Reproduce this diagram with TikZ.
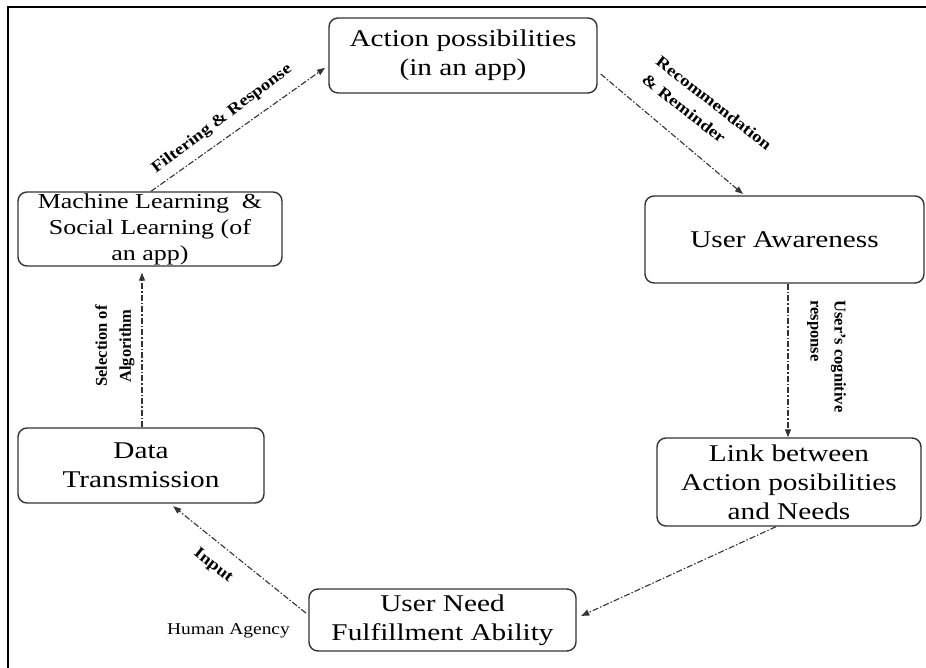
\documentclass[tikz,border=0pt]{standalone}
\usepackage{fontspec}
\setmainfont{Liberation Serif}
\newfontfamily\boxfont{Liberation Serif}[FakeStretch=1.22]
\newfontfamily\labfont{Liberation Serif}[FakeStretch=1.18]
\usetikzlibrary{arrows.meta}

\tikzset{
  stagebox/.style={draw=black!80, line width=1.4pt, rounded corners=9pt,
    align=center, inner sep=0pt,
    font=\boxfont\fontsize{24}{29}\selectfont},
  flow/.style={draw=black!80, line width=1.1pt,
    dash pattern=on 6pt off 2pt on 1.5pt off 2pt,
    -{Triangle[length=8pt,width=6pt]}},
  edgelab/.style={font=\labfont\bfseries\fontsize{16}{23}\selectfont,
    inner sep=0pt},
  vertlab/.style={font=\bfseries\fontsize{16.5}{24}\selectfont,
    inner sep=0pt},
}

\begin{document}
\begin{tikzpicture}[x=1pt,y=1pt]
  \useasboundingbox (0,0) rectangle (926,668);
  \fill[white] (0,0) rectangle (926,668);

  % frame lines along the top and left edge
  \draw[line width=2pt, black] (8,0) -- (8,661) -- (926,661);

  % stages of the cycle
  \node[stagebox, minimum width=268pt, minimum height=75pt] (act)
    at (463,612.5) {Action possibilities\\(in an app)};
  \node[stagebox, minimum width=279pt, minimum height=87pt] (ua)
    at (784.5,428.5) {User Awareness};
  \node[stagebox, minimum width=264pt, minimum height=88pt] (link)
    at (789,186) {Link between\\Action posibilities\\and Needs};
  \node[stagebox, minimum width=267pt, minimum height=62pt] (need)
    at (442.5,48) {User Need\\Fulfillment Ability};
  \node[stagebox, minimum width=246pt, minimum height=75pt] (data)
    at (141,202.5) {Data\\Transmission};
  \node[stagebox, minimum width=264pt, minimum height=74pt,
    font=\boxfont\fontsize{21.3}{26}\selectfont] (ml)
    at (150,439) {Machine Learning\ \ \&\\Social Learning (of\\an app)};

  % connectors
  \draw[flow, shorten >=4pt] ([xshift=1pt]ml.north) -- ([yshift=-10pt]act.west);
  \draw[flow, shorten <=4pt, shorten >=2pt] ([yshift=-16pt]act.east) -- ([xshift=-40pt]ua.north);
  \draw[flow] ([xshift=3.5pt]ua.south) -- ([xshift=-1pt]link.north);
  \draw[flow, shorten >=5pt] ([xshift=-13pt]link.south) -- ([yshift=2pt]need.east);
  \draw[flow, shorten <=3pt, shorten >=4pt] ([yshift=5pt]need.west) -- ([xshift=29pt]data.south);
  \draw[flow, shorten >=6pt] ([xshift=1pt]data.north) -- ([xshift=-8pt]ml.south);

  % connector labels
  \node[edgelab, rotate=37] (lfr) at (222,549) {Filtering \& Response};
  \node[edgelab, rotate=-38, align=left] (lrr) at (707,556)
    {Recommendation\\\& Reminder};
  \node[vertlab, rotate=-90, align=left] (lcog) at (826.5,311.5)
    {User's cognitive\\response};
  \node[vertlab, rotate=90, align=center] (lsel) at (115,322)
    {Selection of\\Algorithm};
  \node[edgelab, rotate=-38] (linp) at (213,102) {Input};
  \node[font=\labfont\fontsize{16.5}{20}\selectfont, inner sep=0pt] (lha)
    at (228.5,37) {Human Agency};
\end{tikzpicture}
\end{document}
